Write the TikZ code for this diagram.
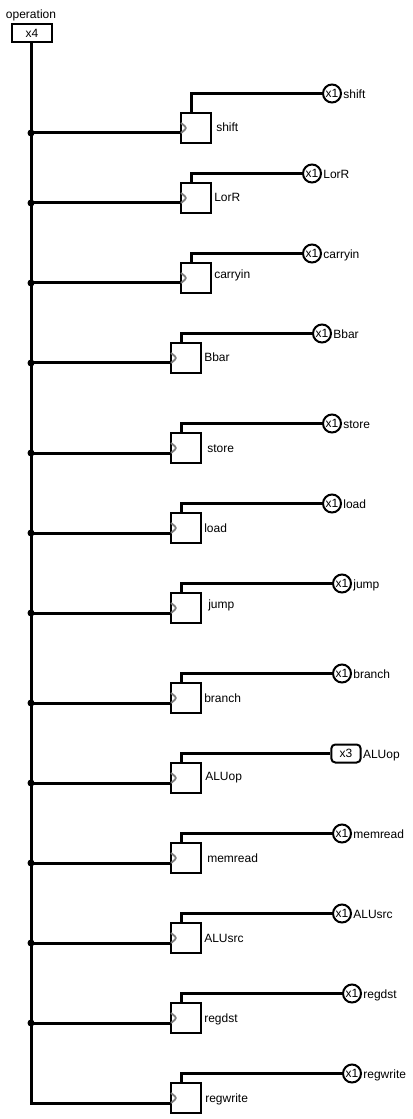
\documentclass[tikz,border=0pt]{standalone}
\usepackage{fontspec}
\setmainfont{Liberation Sans}
\usetikzlibrary{positioning}
\tikzset{
  wire/.style={line width=2.25pt},
  regbox/.style={draw,line width=1.5pt,minimum size=22.5pt,inner sep=0pt},
  xone/.style={draw,circle,line width=1.5pt,minimum size=13.5pt,inner sep=0pt},
  xthree/.style={draw,rounded corners=3pt,line width=1.5pt,minimum width=22pt,minimum height=13.5pt,inner sep=0pt},
  lbl/.style={inner sep=0pt,text height=8pt,text depth=0.5pt},
}
\begin{document}
\begin{tikzpicture}[x=0.75pt,y=-0.75pt,font=\fontsize{9}{10}\selectfont]
  \useasboundingbox (0,0) rectangle (412,1119);
  \node[draw,line width=1.5pt,minimum width=29.5pt,minimum height=13.5pt,inner sep=0pt] (opin) at (32,33.5) {x4};
  \node[lbl] (oplabel) at (31,14) {operation};
  \foreach \n/\bx/\by/\ty/\ox/\gap/\up/\st/\w in {
    shift/196/128/93.5/332/4/0/xone/x1,
    LorR/196/198/173.5/312/2/0/xone/x1,
    carryin/196/278/253.5/312/2/3/xone/x1,
    Bbar/186/358/333.5/322/2/0/xone/x1,
    store/186/448/423.5/332/5/0/xone/x1,
    load/186/528/503.5/332/2/0/xone/x1,
    jump/186/608/583.5/342/6/4/xone/x1,
    branch/186/698/673.5/342/2/0/xone/x1,
    ALUop/186/778/753.5/346/3/2/xthree/x3,
    memread/186/858/833.5/342/5/0/xone/x1,
    ALUsrc/186/938/913.5/342/2/0/xone/x1,
    regdst/186/1018/993.5/352/2/0/xone/x1,
    regwrite/186/1098/1073.5/352/3/0/xone/x1}{
    \node[regbox] (box\n) at (\bx,\by) {};
    \node[lbl,right=\gap*0.75pt of box\n,yshift=\up*0.75pt+0.75pt] (lbl\n) {\n};
    \node[\st] (out\n) at (\ox,\ty) {\w};
    \node[lbl,right=0.8pt of out\n] (name\n) {\n};
    \coordinate (tap\n) at (31,\by+5);
    \coordinate (q\n) at (\bx-5,\by-15);
    \draw[wire] (tap\n) -- (tap\n -| box\n.west);
    \draw[wire] (q\n) |- (out\n);
    \draw[gray,line width=1.4pt,rounded corners=2pt] (\bx-15,\by-5) -- (\bx-9,\by) -- (\bx-15,\by+5);
  }
  \draw[wire,line cap=rect] (opin.south -| tapregwrite) -- (tapregwrite);
  \foreach \n in {shift,LorR,carryin,Bbar,store,load,jump,branch,ALUop,memread,ALUsrc,regdst}
    \fill (tap\n) circle (3.5);
\end{tikzpicture}
\end{document}
